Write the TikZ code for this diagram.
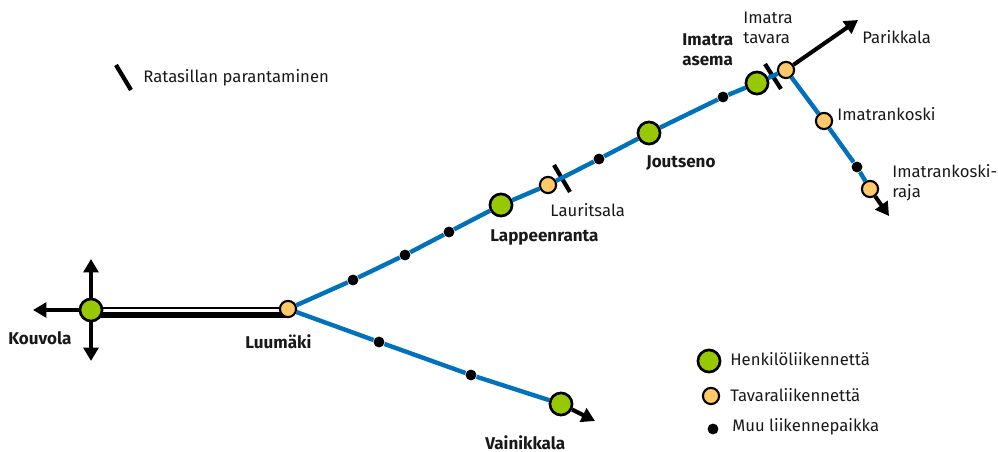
\documentclass[tikz,border=0pt]{standalone}
\usepackage{fontspec}
\setmainfont{Fira Sans}
\usetikzlibrary{arrows.meta, backgrounds}
\definecolor{railblue}{HTML}{0072BC}
\definecolor{stopgreen}{HTML}{97C800}
\definecolor{stoporange}{HTML}{FFC869}
\tikzset{
    henkilo/.style={circle, draw=black, line width=1.5pt, fill=stopgreen, minimum size=12.6pt, inner sep=0pt},
    tavara/.style={circle, draw=black, line width=1.2pt, fill=stoporange, minimum size=9.2pt, inner sep=0pt},
    muu/.style={circle, fill=black, minimum size=6.2pt, inner sep=0pt},
    rail/.style={railblue, line width=2.5pt},
    route/.style={black, line width=2.3pt, -{Triangle[length=7.6pt,width=8.4pt]}},
    crossbar/.style={black, line width=2.4pt},
    label/.style={font=\fontsize{9.5}{11.2}\selectfont, text=black!90, inner sep=0pt, align=left},
    boldlabel/.style={label, font=\fontsize{9.7}{11.2}\selectfont\bfseries},
}
\begin{document}
\begin{tikzpicture}[x=0.02cm, y=-0.02cm]
    \useasboundingbox (0,-1) rectangle (998,451);

    % route ends
    \coordinate (kouvolaup) at (91,258);
    \coordinate (kouvoladown) at (91,360);
    \coordinate (kouvolaleft) at (33,309);
    \coordinate (parikkalaend) at (858,19);
    \coordinate (rajaend) at (889,215);
    \coordinate (vainikkalaend) at (595,420);
    \coordinate (thinA) at (91,307);
    \coordinate (thinB) at (288,307);
    \coordinate (thickA) at (91,314);
    \coordinate (thickB) at (288,314);
    \coordinate (barAa) at (116,64);
    \coordinate (barAb) at (131,89);
    \coordinate (barBa) at (554,164);
    \coordinate (barBb) at (570,191);
    \coordinate (barCa) at (765,63);
    \coordinate (barCb) at (781,88);

    % stations
    \node [henkilo] (kouvola) at (91,309) {};
    \node [tavara] (luumaki) at (288,308) {};
    \node [henkilo] (lappeenranta) at (501,204) {};
    \node [tavara] (lauritsala) at (548,184) {};
    \node [henkilo] (joutseno) at (649,132) {};
    \node [henkilo] (imatra) at (757,82) {};
    \node [tavara] (tavaraim) at (786,69) {};
    \node [tavara] (imatrankoski) at (824,120) {};
    \node [tavara] (raja) at (870,188) {};
    \node [henkilo] (vainikkala) at (561,403) {};

    \node [muu] (p1) at (353,279) {};
    \node [muu] (p2) at (405,254) {};
    \node [muu] (p3) at (449,231) {};
    \node [muu] (p4) at (599,158) {};
    \node [muu] (p5) at (723,96) {};
    \node [muu] (p6) at (857,166) {};
    \node [muu] (p7) at (379,341) {};
    \node [muu] (p8) at (471,374) {};

    % legend
    \node [henkilo] (legA) at (709,360) {};
    \node [tavara] (legB) at (711,395) {};
    \node [muu] (legC) at (713,428) {};

    % labels
    \node [label, anchor=west] (legtext) at (143,77) {Ratasillan parantaminen};
    \node [boldlabel, anchor=west] at (8,337) (kouvolatext) {Kouvola};
    \node [boldlabel, anchor=west] at (245,341) (luumakitext) {Luumäki};
    \node [boldlabel, anchor=west] at (490,236) (lappeenrantatext) {Lappeenranta};
    \node [label, anchor=west] at (550,209) (lauritsalatext) {Lauritsala};
    \node [boldlabel, anchor=west] at (646,162) (joutsenotext) {Joutseno};
    \node [boldlabel, anchor=west] at (682,49) (imatratext) {Imatra\\asema};
    \node [label, anchor=west] at (743,27) (tavaratext) {Imatra\\tavara};
    \node [label, anchor=west] at (862,36) (parikkalatext) {Parikkala};
    \node [label, anchor=west] at (837,113) (koskitext) {Imatrankoski};
    \node [label, anchor=west] at (892,182) (rajatext) {Imatrankoski-\\raja};
    \node [boldlabel, anchor=west] at (485,442) (vainikkalatext) {Vainikkala};
    \node [label, anchor=west] at (730,358) (legAtext) {Henkilöliikennettä};
    \node [label, anchor=west] at (730,394) (legBtext) {Tavaraliikennettä};
    \node [label, anchor=west] at (732,426) (legCtext) {Muu liikennepaikka};

    \draw [crossbar] (barAa) -- (barAb);
    \draw [crossbar] (barBa) -- (barBb);
    \draw [crossbar] (barCa) -- (barCb);

    \draw [rail] (luumaki) -- (p1) -- (p2) -- (p3) -- (lappeenranta) -- (lauritsala) -- (p4) -- (joutseno) -- (p5) -- (imatra);
    \draw [rail] (tavaraim) -- (imatrankoski) -- (p6) -- (raja);
    \draw [rail] (luumaki) -- (p7) -- (p8) -- (vainikkala);
    \draw [rail] (imatra) -- (tavaraim);

    \draw [route] (kouvola) -- (kouvolaup);
    \draw [route] (kouvola) -- (kouvoladown);
    \draw [route] (kouvola) -- (kouvolaleft);
    \draw [route] (tavaraim) -- (parikkalaend);
    \draw [route] (raja) -- (rajaend);
    \draw [route] (vainikkala) -- (vainikkalaend);

    \begin{pgfonlayer}{background}
        \draw [black, line width=1.7pt] (thinA) -- (thinB);
        \draw [black, line width=3.1pt] (thickA) -- (thickB);
    \end{pgfonlayer}
\end{tikzpicture}
\end{document}
